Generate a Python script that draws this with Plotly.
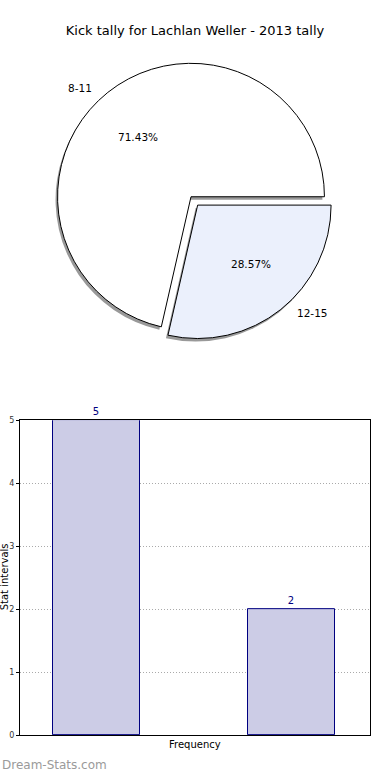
import math
import plotly.graph_objects as go

# ---- data ----
pie_labels = ["8-11", "12-15"]
pie_values = [5, 2]
pie_colors = ["#ffffff", "#ebf0fc"]
pie_explode = [0.0, 0.08]

bar_categories = ["8-11", "12-15"]
bar_values = [5, 2]
y_ticks = [0, 1, 2, 3, 4, 5]

title_text = "Kick tally for Lachlan Weller - 2013 tally"
x_title = "Frequency"
y_title = "Stat intervals"
watermark = "Dream-Stats.com"

W, H = 390, 780
FONT = "DejaVu Sans"

fig = go.Figure()

# pie geometry (pixels)
cx, cy = 191, 195
r = 135
maxpull = max(pie_explode)
half = r * (1 + maxpull)
total = sum(pie_values)
# first slice starts at 3 o'clock and runs counterclockwise (matplotlib style)
rotation = 90 + 360 * (1 - pie_values[0] / total)

def dom(cxp, cyp):
    return dict(x=[(cxp - half) / W, (cxp + half) / W],
                y=[(H - cyp - half) / H, (H - cyp + half) / H])

# shadow pie
fig.add_trace(go.Pie(
    labels=pie_labels, values=pie_values, sort=False,
    direction="counterclockwise", rotation=rotation, pull=pie_explode,
    marker=dict(colors=["rgba(110,110,110,0.7)"] * 2, line=dict(width=0)),
    textinfo="none", hoverinfo="skip", showlegend=False,
    domain=dom(cx - 2, cy + 3),
))
# main pie
fig.add_trace(go.Pie(
    labels=pie_labels, values=pie_values, sort=False,
    direction="counterclockwise", rotation=rotation, pull=pie_explode,
    marker=dict(colors=pie_colors, line=dict(color="#000000", width=1)),
    textinfo="none", showlegend=False,
    domain=dom(cx, cy),
))

# pie text (matplotlib-like placement)
rx, ry = 141, 128
start = 0.0
annotations = []
for lab, v, ex in zip(pie_labels, pie_values, pie_explode):
    frac = v / total
    mid = math.radians(start + frac * 360 / 2)
    start += frac * 360
    c, s = math.cos(mid), math.sin(mid)
    lx = cx + (1.1 + ex) * rx * c
    ly = cy - (1.1 + ex) * ry * s
    px_ = cx + (0.6 + ex) * rx * c
    py_ = cy - (0.6 + ex) * ry * s
    annotations.append(dict(
        x=lx / W, y=1 - ly / H, xref="paper", yref="paper",
        text=lab, showarrow=False,
        xanchor="right" if c < 0 else "left", yanchor="middle",
        font=dict(family=FONT, size=10.5, color="#000000")))
    annotations.append(dict(
        x=px_ / W, y=1 - py_ / H, xref="paper", yref="paper",
        text=f"{frac * 100:.2f}%", showarrow=False,
        xanchor="center", yanchor="middle",
        font=dict(family=FONT, size=10.5, color="#000000")))

# bar chart
fig.add_trace(go.Bar(
    x=[0, 1], y=bar_values, width=0.45,
    marker=dict(color="#ccccE6", line=dict(color="#000080", width=1)),
    text=[str(v) for v in bar_values], textposition="outside",
    textfont=dict(family=FONT, size=10, color="#000080"),
    cliponaxis=False, showlegend=False, xaxis="x", yaxis="y",
))

annotations.append(dict(
    x=0.0, y=1 - 770 / H, xref="paper", yref="paper", text=watermark,
    showarrow=False, xanchor="left", yanchor="middle",
    font=dict(family=FONT, size=12, color="#9a9a9a")))
annotations.append(dict(
    x=4 / W, y=1 - 580 / H, xref="paper", yref="paper", text=y_title,
    showarrow=False, textangle=-90, xanchor="center", yanchor="middle",
    font=dict(family=FONT, size=10, color="#000000")))
annotations.append(dict(
    x=195 / W, y=1 - 749 / H, xref="paper", yref="paper", text=x_title,
    showarrow=False, xanchor="center", yanchor="middle",
    font=dict(family=FONT, size=10, color="#000000")))

fig.update_layout(
    width=W, height=H, margin=dict(l=0, r=0, t=0, b=0),
    paper_bgcolor="white", plot_bgcolor="white",
    title=dict(text=title_text, x=195 / W, xanchor="center",
               y=1 - 30 / H, yanchor="middle",
               font=dict(family=FONT, size=13, color="#000000")),
    font=dict(family=FONT),
    xaxis=dict(domain=[20 / W, 370 / W], range=[-0.392, 1.403],
               showticklabels=False, ticks="", showgrid=False,
               showline=True, linecolor="#000000", linewidth=1, mirror=True,
               zeroline=False, fixedrange=True),
    yaxis=dict(domain=[(H - 740) / H, (H - 421) / H], range=[0, 5],
               tickvals=y_ticks, ticktext=[str(t) for t in y_ticks],
               ticks="outside", ticklen=3, tickcolor="#000000",
               tickfont=dict(family=FONT, size=8, color="#333333"),
               showgrid=True, gridcolor="#aaaaaa", griddash="1px,2px", gridwidth=1,
               showline=True, linecolor="#000000", linewidth=1, mirror=True,
               zeroline=False, fixedrange=True),
    annotations=annotations,
    bargap=0,
)

post = (
    "var d=document.documentElement,b=document.body;"
    "[d,b].forEach(function(e){e.style.margin='0';e.style.padding='0';"
    "e.style.overflow='hidden';e.style.height='780px';e.style.lineHeight='0';});"
    "document.querySelectorAll('.svg-container').forEach(function(e){e.style.display='block';});"
)
fig.write_html("out.html", config={"displayModeBar": False}, post_script=post)
